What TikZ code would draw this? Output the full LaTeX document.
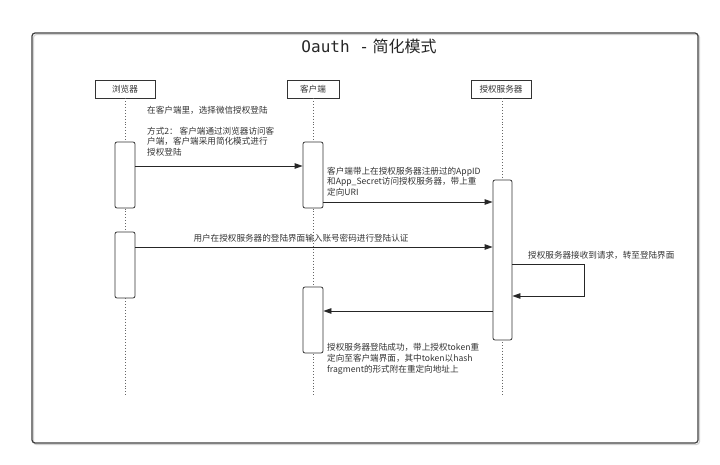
\documentclass[tikz,border=0pt]{standalone}
\usepackage{fontspec}
\setmainfont{Noto Sans CJK SC}
\newfontfamily\monof{DejaVu Sans Mono}
\usetikzlibrary{arrows.meta}
\begin{document}
\begin{tikzpicture}[x=1pt,y=-1pt,
  lbl/.style={font=\fontsize{8.6}{10.6}\selectfont, text=black!80, inner sep=0pt, align=left},
  head/.style={draw=black!80, line width=0.8pt, minimum width=#1, minimum height=18pt, inner sep=0pt, font=\fontsize{8.6}{10}\selectfont, text=black!80, fill=white},
  act/.style={draw=black!80, line width=0.8pt, rounded corners=2pt, fill=white, minimum width=20pt, minimum height=#1, inner sep=0pt},
  life/.style={dotted, draw=black!60, line width=0.9pt},
  msg/.style={draw=black!85, line width=0.8pt, -{Triangle[length=8pt,width=5.5pt]}}
]
\useasboundingbox (0,0) rectangle (720,465);
% frame
\draw[gray!35, line width=1.2pt, rounded corners=3pt] (33.5,34.5) rectangle (699.5,444.5);
\draw[black!75, line width=1.2pt, rounded corners=3pt] (32,33) rectangle (698,443);
\node[font=\fontsize{16}{18}\selectfont, text=black!85] (title) at (369,46) {{\monof Oauth -} 简化模式};

% headers
\node[head=60pt] (hb) at (125,89) {浏览器};
\node[head=52pt] (hc) at (313,89) {客户端};
\node[head=60pt] (hs) at (501,89) {授权服务器};

% lifeline ends
\coordinate (eb) at (125,396);
\coordinate (ec) at (313,396);
\coordinate (es) at (502,396);
\draw[life] (hb.south) -- (eb);
\draw[life] (hc.south) -- (ec);
\draw[life] (hs.south -| es) -- (es);

% activation boxes
\node[act=66pt] (b1) at (125,175) {};
\node[act=66pt] (b2) at (125,265) {};
\node[act=66pt] (c1) at (313,175) {};
\node[act=66pt] (c2) at (313,320) {};
\node[act=160pt, minimum width=19pt] (s1) at (502.5,260) {};

% messages
\draw[msg] (b1.east |- 0,166) -- (c1.west |- 0,166);
\draw[msg] (c1.east |- 0,202) -- (s1.west |- 0,202);
\draw[msg] (b2.east |- 0,247) -- (s1.west |- 0,247);
\coordinate (l1) at (584,264);
\coordinate (l2) at (584,296);
\draw[msg] (s1.east |- 0,264) -- (l1) -- (l2) -- (s1.east |- 0,296);
\draw[msg] (s1.west |- 0,311) -- (c2.east |- 0,311);

% labels
\node[lbl, anchor=west] (tA) at (147,110) {在客户端里，选择微信授权登陆};
\node[lbl, anchor=north west] (tB) at (147,126.5) {方式2： 客户端通过浏览器访问客\\户端，客户端采用简化模式进行\\授权登陆};
\node[lbl, anchor=north west] (tC) at (327,166.5) {客户端带上在授权服务器注册过的AppID\\和App\_Secret访问授权服务器，带上重\\定向URI};
\node[lbl] (tD) at (301,238) {用户在授权服务器的登陆界面输入账号密码进行登陆认证};
\node[lbl, anchor=west] (tE) at (528,255) {授权服务器接收到请求，转至登陆界面};
\node[lbl, anchor=north west] (tF) at (327,343.5) {授权服务器登陆成功，带上授权token重\\定向至客户端界面，其中token以hash\\fragment的形式附在重定向地址上};
\end{tikzpicture}
\end{document}
